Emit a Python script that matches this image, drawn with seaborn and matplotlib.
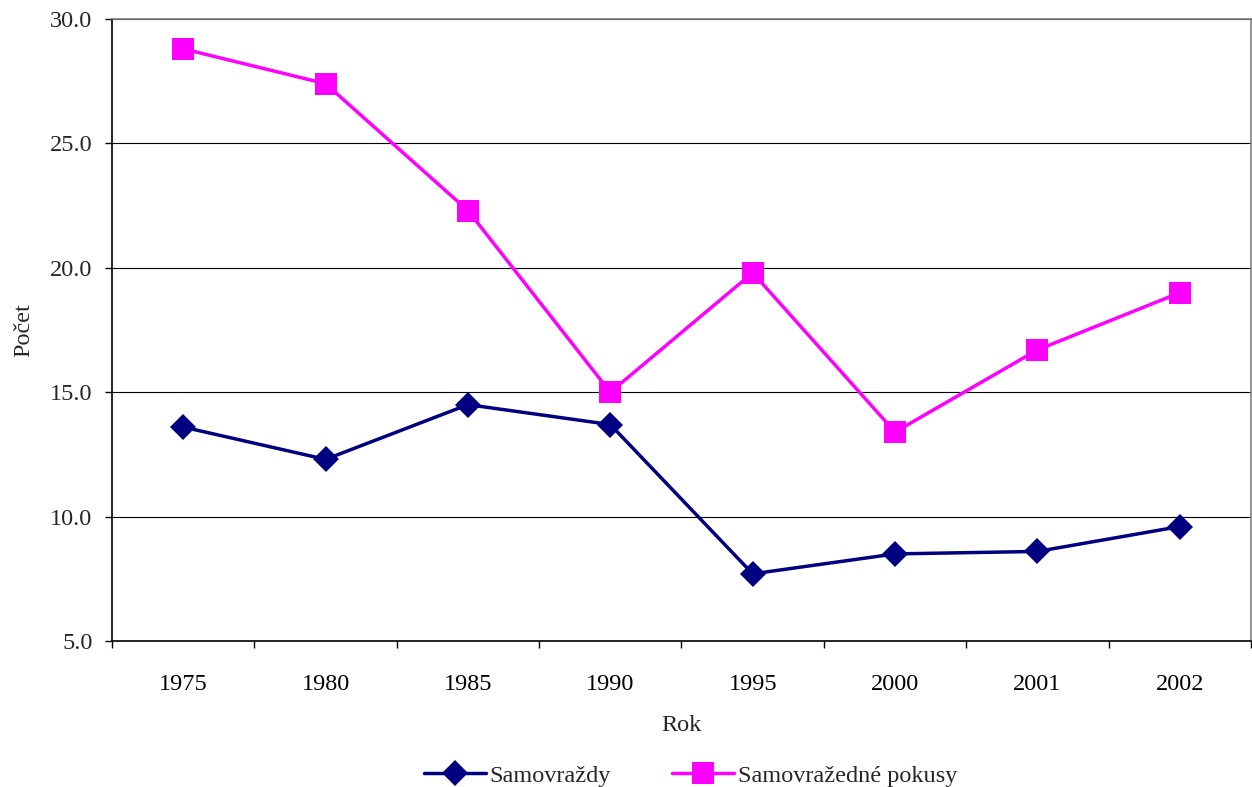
import matplotlib
matplotlib.use("Agg")
import matplotlib.pyplot as plt
import seaborn as sns
import pandas as pd
from matplotlib.ticker import FixedLocator, MultipleLocator, FormatStrFormatter

years = ["1975", "1980", "1985", "1990", "1995", "2000", "2001", "2002"]
samovrazdy = [13.6, 12.3, 14.5, 13.7, 7.7, 8.5, 8.6, 9.6]
pokusy = [28.8, 27.4, 22.3, 15.0, 19.8, 13.4, 16.7, 19.0]
series_names = ["Samovraždy", "Samovražedné pokusy"]

df = pd.DataFrame({
    "Rok": years * 2,
    "Počet": samovrazdy + pokusy,
    "Řada": [series_names[0]] * len(years) + [series_names[1]] * len(years),
})

sns.set_theme(style="white")
plt.rcParams["font.family"] = ["Liberation Serif", "DejaVu Serif"]

FS = 17.5
fig = plt.figure(figsize=(12.52, 7.87), dpi=100)
ax = fig.add_axes([112/1252, (787-641)/787, (1251-112)/1252, (641-19)/787])

sns.lineplot(data=df, x="Rok", y="Počet", hue="Řada", style="Řada",
             palette={series_names[0]: "#000080", series_names[1]: "#FF00FF"},
             markers={series_names[0]: "D", series_names[1]: "s"},
             dashes=False, linewidth=2.5, sort=False, ax=ax,
             markeredgewidth=0)
for line in ax.lines:
    if line.get_marker() == "s":
        line.set_markersize(16)
    elif line.get_marker() == "D":
        line.set_markersize(13.5)

ax.set_xlim(-0.5, len(years) - 0.5)
ax.set_ylim(5, 30)
ax.yaxis.set_major_locator(MultipleLocator(5))
ax.yaxis.set_major_formatter(FormatStrFormatter("%.1f"))
ax.set_xticks(range(len(years)))
ax.set_xticklabels(years)
ax.xaxis.set_minor_locator(FixedLocator([i - 0.5 for i in range(len(years) + 1)]))
ax.tick_params(axis="x", which="major", length=0, pad=24, labelsize=FS, colors="black")
ax.tick_params(axis="x", which="minor", length=5, width=1, color="black", direction="out", bottom=True)
ax.tick_params(axis="y", which="major", length=5, width=1, color="black", direction="out",
               left=True, labelsize=FS, pad=9)
ax.grid(axis="y", color="black", linewidth=0.8)
ax.grid(axis="x", visible=False)
ax.set_axisbelow(True)

for s in ["left", "bottom"]:
    ax.spines[s].set_color("black")
    ax.spines[s].set_linewidth(1.2)
for s in ["top", "right"]:
    ax.spines[s].set_color("#808080")
    ax.spines[s].set_linewidth(1.2)

ax.set_xlabel("Rok", fontsize=FS, labelpad=14)
ax.set_ylabel("Počet", fontsize=FS, labelpad=11)

handles, labels = ax.get_legend_handles_labels()
ax.legend(handles, labels, loc="center", bbox_to_anchor=(0.508, -0.217),
          ncol=2, frameon=False, fontsize=FS, handlelength=2.55,
          columnspacing=2.5, handletextpad=0.15)

fig.savefig("out.png", dpi=100, facecolor="white")
